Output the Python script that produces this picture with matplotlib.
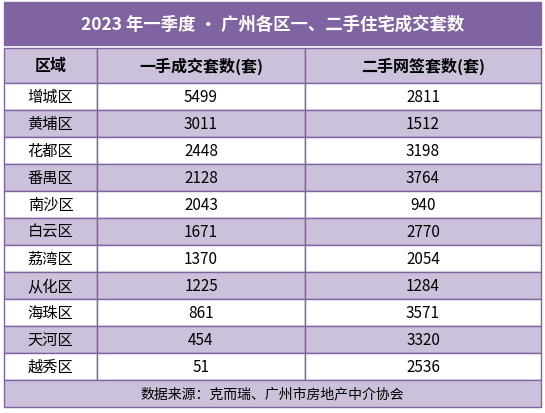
import matplotlib.pyplot as plt
from matplotlib.patches import Rectangle

plt.rcParams['font.family'] = ['Noto Sans CJK SC', 'DejaVu Sans']

title = "2023 年一季度 • 广州各区一、二手住宅成交套数"
headers = ["区域", "一手成交套数(套)", "二手网签套数(套)"]
districts = ["增城区", "黄埔区", "花都区", "番禺区", "南沙区", "白云区",
             "荔湾区", "从化区", "海珠区", "天河区", "越秀区"]
new_homes = [5499, 3011, 2448, 2128, 2043, 1671, 1370, 1225, 861, 454, 51]
resale = [2811, 1512, 3198, 3764, 940, 2770, 2054, 1284, 3571, 3320, 2536]
footer = "数据来源：克而瑞、广州市房地产中介协会"

PURPLE = "#8064a2"
LIGHT = "#ccc1da"
EDGE = "#8064a2"

fig = plt.figure(figsize=(5.45, 4.14), dpi=100)
ax = fig.add_axes([0, 0, 1, 1])
ax.set_xlim(0, 545)
ax.set_ylim(414, 0)
ax.axis("off")

x0, x1, x2, x3 = 4, 97, 305, 541
cols = [(x0, x1), (x1, x2), (x2, x3)]

def cell(xa, xb, ya, yb, color):
    ax.add_patch(Rectangle((xa, ya), xb - xa, yb - ya, facecolor=color,
                           edgecolor=EDGE, linewidth=1))

# title bar
ax.add_patch(Rectangle((x0, 3), x3 - x0, 43, facecolor=PURPLE, edgecolor=PURPLE))
ax.text((x0 + x3) / 2, 25, title, color="white", fontsize=12.5,
        fontweight="bold", ha="center", va="center")

# header
hy0, hy1 = 49, 84
for (a, b), h in zip(cols, headers):
    cell(a, b, hy0, hy1, LIGHT)
    ax.text((a + b) / 2, (hy0 + hy1) / 2, h, fontsize=11.5, fontweight="bold",
            ha="center", va="center")

rh = 27
for i, (d, n, r) in enumerate(zip(districts, new_homes, resale)):
    ya = hy1 + i * rh
    color = "white" if i % 2 == 0 else LIGHT
    for (a, b), v in zip(cols, [d, n, r]):
        cell(a, b, ya, ya + rh, color)
        ax.text((a + b) / 2, ya + rh / 2, str(v), fontsize=11,
                ha="center", va="center")

fy = hy1 + len(districts) * rh
cell(x0, x3, fy, 408, LIGHT)
ax.text((x0 + x3) / 2, (fy + 408) / 2, footer, fontsize=10,
        ha="center", va="center")

fig.savefig("out.png", dpi=100)
